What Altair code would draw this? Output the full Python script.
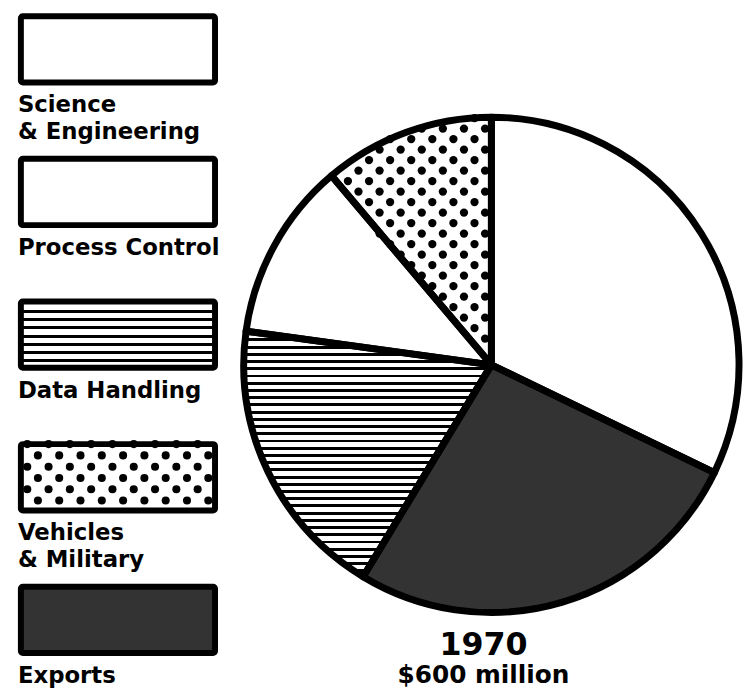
import altair as alt
import pandas as pd

# ---------------- data ----------------
pie_categories = ["Science & Engineering", "Exports", "Data Handling",
                  "Process Control", "Vehicles & Military"]
pie_values = [193, 159, 111, 70, 67]          # $ million, clockwise from 12 o'clock

legend_categories = ["Science & Engineering", "Process Control", "Data Handling",
                     "Vehicles & Military", "Exports"]
legend_labels = ["Science\n& Engineering", "Process Control", "Data Handling",
                 "Vehicles\n& Military", "Exports"]
fill_colors = ["white", "white", "white", "white", "#333333"]

year_label = "1970"
total_label = "$600 million"

# ---------------- styles ----------------
R = 250                      # pie radius in px
TOP = 352 / R                # space above pie centre (in radius units)
FONT = "DejaVu Sans"


def stripes(n, black=0.37):
    stops = []
    for k in range(n):
        a, b, c = k / n, (k + black) / n, (k + 1) / n
        stops += [{"offset": a, "color": "black"}, {"offset": b, "color": "black"},
                  {"offset": b, "color": "white"}, {"offset": c, "color": "white"}]
    return {"gradient": "linear", "x1": 0, "y1": 0, "x2": 0, "y2": 1, "stops": stops}


pie_grad = stripes(34, 0.4)
leg_grad = stripes(8, 0.35)

# ---------------- pie panel ----------------
pie_df = pd.DataFrame({"cat": pie_categories, "value": pie_values,
                       "idx": list(range(len(pie_values)))})
total = sum(pie_values)
veh_start = 360 * (1 - pie_values[-1] / total)

xs = alt.Scale(domain=[-1, 1], nice=False, zero=False)
ys = alt.Scale(domain=[-1, TOP], nice=False, zero=False)

fill_enc = alt.condition(
    "datum.cat === 'Data Handling'", alt.value(pie_grad),
    alt.Fill("cat:N", scale=alt.Scale(domain=legend_categories, range=fill_colors), legend=None))

base = alt.Chart(pie_df)
pos = dict(theta=alt.Theta("value:Q", stack=True), order=alt.Order("idx:Q"),
           x=alt.XDatum(0, type="quantitative", scale=xs, axis=None),
           y=alt.YDatum(0, type="quantitative", scale=ys, axis=None))

wedges = base.mark_arc(radius=R, strokeWidth=0).encode(fill=fill_enc, **pos)
outline = base.mark_arc(radius=R, stroke="black", strokeWidth=7, strokeJoin="round",
                        fillOpacity=0).encode(**pos)

DX, DY = 21.3 / R, 10.6 / R
NC, NR = 9, 25
dots = (alt.Chart(alt.sequence(0, NC * NR, as_="i"))
        .transform_calculate(row=f"floor(datum.i / {NC})", col=f"datum.i % {NC}")
        .transform_calculate(px=f"-(datum.col + 0.5 * (datum.row % 2)) * {DX} - {DX * 0.3}",
                             py=f"(datum.row + 0.5) * {DY}")
        .transform_calculate(ang="(atan2(datum.px, datum.py) * 180 / PI + 360) % 360",
                             rr="sqrt(datum.px * datum.px + datum.py * datum.py)")
        .transform_filter(f"datum.ang >= {veh_start - 0.5} && datum.rr <= 1.0")
        .mark_circle(size=70, color="black", opacity=1)
        .encode(x=alt.X("px:Q", scale=xs, axis=None), y=alt.Y("py:Q", scale=ys, axis=None)))

pie_panel = alt.layer(wedges, dots, outline).properties(
    width=2 * R, height=round(R * (1 + TOP)),
    title=alt.Title(year_label, subtitle=total_label, orient="bottom", anchor="middle",
                    font=FONT, fontSize=32, fontWeight="bold", color="black",
                    subtitleFont=FONT, subtitleFontSize=25, subtitleFontWeight="bold",
                    subtitleColor="black", offset=14, subtitlePadding=2, dx=-8))

# ---------------- legend panel ----------------
leg_df = pd.DataFrame({"cat": legend_categories, "label": legend_labels,
                       "idx": list(range(len(legend_categories)))})
BOX = 0.465
lxs = alt.Scale(domain=[0, 1], nice=False, zero=False)
lys = alt.Scale(domain=[0, 4.5], nice=False, zero=False, reverse=True)

lbase = alt.Chart(leg_df).transform_calculate(y0="datum.idx", y1=f"datum.idx + {BOX}")
lpos = dict(x=alt.XDatum(0, type="quantitative", scale=lxs, axis=None),
            x2=alt.X2Datum(1),
            y=alt.Y("y0:Q", scale=lys, axis=None), y2=alt.Y2("y1:Q"))

leg_fill = alt.condition(
    "datum.cat === 'Data Handling'", alt.value(leg_grad),
    alt.Fill("cat:N", scale=alt.Scale(domain=legend_categories, range=fill_colors), legend=None))

boxes = lbase.mark_rect(strokeWidth=0).encode(fill=leg_fill, **lpos)
box_outline = lbase.mark_rect(fillOpacity=0, stroke="black", strokeWidth=6,
                              cornerRadius=2).encode(**lpos)

veh_idx = legend_categories.index("Vehicles & Military")
LDX, LDY = 21.5 / 196, 11.4 / 144
LNC, LNR = 10, 7
leg_dots = (alt.Chart(alt.sequence(0, LNC * LNR, as_="i"))
            .transform_calculate(row=f"floor(datum.i / {LNC})", col=f"datum.i % {LNC}")
            .transform_calculate(lx=f"(datum.col + 0.5 * (datum.row % 2)) * {LDX} + {LDX * 0.3}",
                                 ly=f"{veh_idx} + datum.row * {LDY}")
            .transform_filter(f"datum.lx <= 1.0 && datum.ly <= {veh_idx + BOX}")
            .mark_circle(size=66, color="black", opacity=1)
            .encode(x=alt.X("lx:Q", scale=lxs, axis=None), y=alt.Y("ly:Q", scale=lys, axis=None)))

labels = lbase.mark_text(align="left", baseline="top", dx=-3, dy=12, font=FONT,
                         fontWeight="bold", fontSize=23, lineBreak="\n", lineHeight=27,
                         color="black").encode(
    x=alt.XDatum(0, type="quantitative", scale=lxs, axis=None),
    y=alt.Y("y1:Q", scale=lys, axis=None), text="label:N")

legend_panel = alt.layer(boxes, leg_dots, box_outline, labels).properties(width=196, height=648)

chart = (alt.hconcat(legend_panel, pie_panel, spacing=29, bounds="flush")
         .properties(padding={"left": 10, "top": 2, "right": 0, "bottom": 0}, background="white")
         .configure_view(stroke=None))

chart.save("out.html", embed_options={"renderer": "svg", "actions": False})
